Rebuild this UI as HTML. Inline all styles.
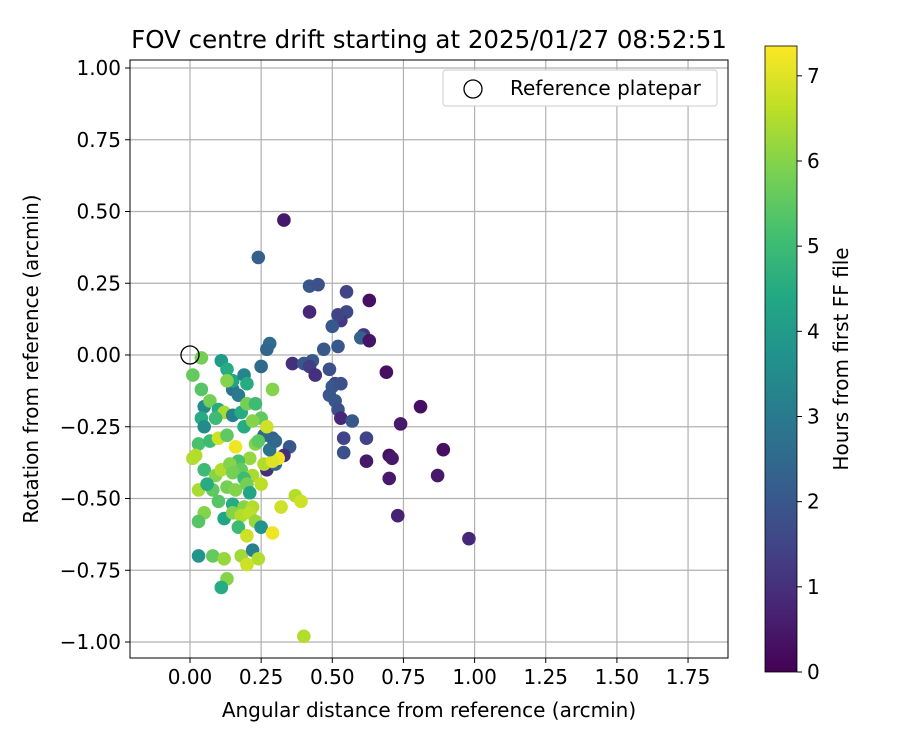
<!DOCTYPE html>
<html><head><meta charset="utf-8"><style>
body{margin:0;background:#fff;font-family:"Liberation Sans","DejaVu Sans",sans-serif}
svg text{font-family:"DejaVu Sans","Liberation Sans",sans-serif;fill:#000}
</style></head><body>
<svg id="c" width="900" height="750" xmlns="http://www.w3.org/2000/svg">
<defs><linearGradient id="vg" x1="0" y1="1" x2="0" y2="0">
<stop offset="0" stop-color="#440154"/><stop offset="0.1" stop-color="#482475"/><stop offset="0.2" stop-color="#414487"/><stop offset="0.3" stop-color="#355f8d"/><stop offset="0.4" stop-color="#2a788e"/><stop offset="0.5" stop-color="#21918c"/><stop offset="0.6" stop-color="#22a884"/><stop offset="0.7" stop-color="#44bf70"/><stop offset="0.8" stop-color="#7ad151"/><stop offset="0.9" stop-color="#bddf26"/><stop offset="1" stop-color="#fde725"/></linearGradient></defs>
<text x="429" y="48" font-size="24.5" text-anchor="middle">FOV centre drift starting at 2025/01/27 08:52:51</text>
<g id="grid"></g><g id="pts"></g>
<rect x="130" y="60" width="598" height="598" fill="none" stroke="#000" stroke-width="1"/>
<g id="ax"></g>
<text x="429" y="717" font-size="20" text-anchor="middle">Angular distance from reference (arcmin)</text>
<text transform="translate(38,359) rotate(-90)" font-size="20" text-anchor="middle">Rotation from reference (arcmin)</text>
<g>
<rect x="443" y="70" width="274" height="36" rx="3" fill="#fff" stroke="#ccc"/>
<circle cx="473" cy="89" r="9" fill="none" stroke="#000" stroke-width="1.3"/>
<text x="510" y="95" font-size="20">Reference platepar</text></g>
<rect x="765" y="46" width="32" height="626" fill="url(#vg)" stroke="#000" stroke-width="0.8"/>
<g id="cb"></g>
<text transform="translate(848,359) rotate(-90)" font-size="20" text-anchor="middle">Hours from first FF file</text>
</svg>
<script>
const xTicks=[0,0.25,0.5,0.75,1,1.25,1.5,1.75];
const yTicks=[1,0.75,0.5,0.25,0,-0.25,-0.5,-0.75,-1];
const cbTicks=[0,1,2,3,4,5,6,7];
const xs=[0.33,0.24,0.42,0.45,0.55,0.63,0.42,0.55,0.53,0.52,0.50,0.28,0.27,0.61,0.60,0.63,0.47,0.52,0.36,0.40,0.43,0.42,0.44,0.49,0.69,0.51,0.50,0.49,0.53,0.51,0.52,0.53,0.57,0.81,0.74,0.54,0.62,0.54,0.62,0.70,0.71,0.89,0.70,0.87,0.73,0.98,0.35,0.33,0.27,0.30,0.29,0.26,0.25,0.15,0.40,
0.01,0.04,0.11,0.04,0.13,0.15,0.19,0.20,0.17,0.13,0.29,0.05,0.07,0.10,0.12,0.04,0.05,0.09,0.15,0.18,0.20,0.23,0.25,0.19,0.22,0.03,0.02,0.01,0.07,0.10,0.13,0.16,0.21,0.17,0.05,0.09,0.11,0.14,0.18,0.22,0.25,0.15,0.19,0.03,0.08,0.06,0.13,0.16,0.20,0.21,0.10,0.15,0.19,0.22,0.32,0.37,0.39,0.05,0.03,0.12,0.15,0.18,0.21,0.23,0.25,0.17,0.20,0.29,0.03,0.08,0.12,0.18,0.22,0.24,0.20,0.13,0.11,0.26,0.27,0.31,0.23,0.24,0.29,0.28,0.30];
const ys=[0.47,0.34,0.24,0.245,0.22,0.19,0.15,0.15,0.12,0.14,0.10,0.04,0.02,0.07,0.06,0.05,0.02,0.03,-0.03,-0.03,-0.02,-0.04,-0.07,-0.05,-0.06,-0.10,-0.11,-0.14,-0.10,-0.16,-0.19,-0.22,-0.23,-0.18,-0.24,-0.29,-0.29,-0.34,-0.37,-0.35,-0.36,-0.33,-0.43,-0.42,-0.56,-0.64,-0.32,-0.35,-0.40,-0.38,-0.29,-0.28,-0.04,-0.12,-0.98,
-0.07,-0.01,-0.02,-0.12,-0.05,-0.09,-0.07,-0.10,-0.14,-0.09,-0.12,-0.18,-0.16,-0.19,-0.20,-0.22,-0.25,-0.22,-0.21,-0.20,-0.17,-0.17,-0.22,-0.25,-0.23,-0.31,-0.35,-0.36,-0.30,-0.29,-0.28,-0.32,-0.36,-0.37,-0.40,-0.42,-0.40,-0.38,-0.40,-0.42,-0.45,-0.41,-0.43,-0.47,-0.47,-0.45,-0.46,-0.47,-0.45,-0.48,-0.51,-0.52,-0.53,-0.53,-0.53,-0.49,-0.51,-0.55,-0.58,-0.57,-0.55,-0.56,-0.55,-0.58,-0.60,-0.60,-0.63,-0.62,-0.70,-0.70,-0.71,-0.70,-0.68,-0.71,-0.73,-0.78,-0.81,-0.38,-0.25,-0.36,-0.31,-0.30,-0.37,-0.33,-0.30];
const hours=[0.5,2.2,2,1.8,1.5,0.3,0.8,1.6,1.2,1.5,2,2.6,2.4,1.2,2.3,0.4,2,2,1,2,2,1.3,1,1.8,0.3,1.5,2,2,1.8,2,1.8,0.8,2,0.3,0.5,1.5,1.5,1.8,0.5,0.3,0.5,0.3,0.5,0.5,0.7,0.8,2,1,1,2.5,2.3,2.5,2.5,2.8,6.5,
5.6,5.8,4,5.4,4.5,4.3,3.3,4.5,3,6,6,3.5,5.8,4.5,6.4,4.5,3.5,5,3.2,4.5,5.8,5,5.5,4.5,6,5.2,6.5,6.5,5,6.8,5.5,7.2,6.2,5.2,5,6,6.5,6,5.6,6.4,6.6,5.8,5,6.4,5.5,4.5,5.8,6,5.8,4.3,5.4,4.5,6,6.5,6.8,6.5,6.8,6,5.4,4.3,6,6.5,6.6,6.2,3.8,5,6.8,7.2,3.8,5.6,6.2,6.3,3.2,6.5,6.8,6,4.5,6.5,6.8,7.2,6,5.5,7,2.8,2.5];
const HMAX=7.35;
const X=v=>190+v*284.6, Y=v=>355-v*287, CB=v=>672-v*626/HMAX;
const stops=["#440154","#482475","#414487","#355f8d","#2a788e","#21918c","#22a884","#44bf70","#7ad151","#bddf26","#fde725"];
function vir(t){t=Math.max(0,Math.min(1,t))*10;const i=Math.min(9,Math.floor(t)),f=t-i;
const a=stops[i],b=stops[i+1];const p=(s,k)=>parseInt(s.substr(k,2),16);
let o="#";for(const k of [1,3,5]){o+=Math.round(p(a,k)+(p(b,k)-p(a,k))*f).toString(16).padStart(2,"0");}return o;}
const NS="http://www.w3.org/2000/svg";
function mk(t,at,par){const e=document.createElementNS(NS,t);for(const k in at)e.setAttribute(k,at[k]);document.getElementById(par).appendChild(e);return e;}
xTicks.forEach(v=>{
const l=mk("line",{x1:X(v),x2:X(v),y1:60,y2:658,stroke:"#b0b0b0","stroke-width":1.2},"grid");


mk("line",{x1:X(v),x2:X(v),y1:658,y2:663,stroke:"#000"},"ax");
const t=mk("text",{x:X(v),y:684,"font-size":20,"text-anchor":"middle"},"ax");t.textContent=v.toFixed(2);

});
yTicks.forEach(v=>{
const l=mk("line",{x1:130,x2:728,y1:Y(v),y2:Y(v),stroke:"#b0b0b0","stroke-width":1.2},"grid");


mk("line",{x1:125,x2:130,y1:Y(v),y2:Y(v),stroke:"#000"},"ax");
const t=mk("text",{x:121,y:Y(v)+7,"font-size":20,"text-anchor":"end"},"ax");t.textContent=(v<0?"\u2212":"")+Math.abs(v).toFixed(2);

});
cbTicks.forEach(v=>{
mk("line",{x1:797,x2:802,y1:CB(v),y2:CB(v),stroke:"#000"},"cb");
const t=mk("text",{x:807,y:CB(v)+7,"font-size":20},"cb");t.textContent=v;

});
xs.forEach((x,i)=>{
const c=mk("circle",{cx:X(x),cy:Y(ys[i]),r:6.8,fill:vir(hours[i]/HMAX)},"pts");

});
const r=mk("circle",{cx:X(0),cy:Y(0),r:9,fill:"none",stroke:"#000","stroke-width":1.3},"pts");


</script>
</body></html>
